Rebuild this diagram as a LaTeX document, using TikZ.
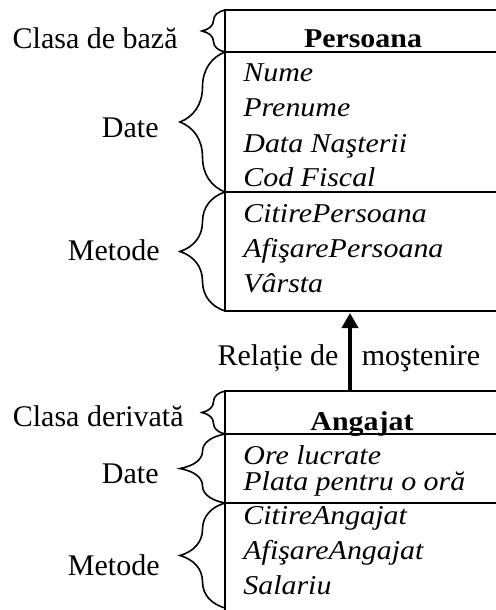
\documentclass[tikz,border=0pt]{standalone}
\usepackage{fontspec}
\setmainfont{Liberation Serif}
\newfontfamily\boxfont[FakeStretch=1.1]{Liberation Serif}
\usetikzlibrary{arrows.meta,decorations.pathreplacing}
\tikzset{
  sect/.style={draw, line width=1pt, inner sep=0pt, outer sep=0pt, anchor=north west, minimum width=138pt},
  item/.style={anchor=base west, inner sep=0pt, font=\boxfont\fontsize{13.6}{15}\selectfont\itshape},
  head/.style={anchor=base, inner sep=0pt, font=\boxfont\fontsize{13.6}{15}\selectfont\bfseries},
  lab/.style={anchor=base east, inner sep=0pt, font=\fontsize{15}{18}\selectfont},
  brc/.style={decorate, line width=0.8pt, decoration={brace, amplitude=#1}},
}
\begin{document}
\begin{tikzpicture}[x=0.5pt,y=-0.5pt]
\useasboundingbox (0,0) rectangle (496,610);
\clip (0,0) rectangle (496,610);
% base class
\node[sect, minimum height=21pt] (phead) at (225,10) {};
\node[sect, minimum height=70pt] (pdata) at (225,52) {};
\node[sect, minimum height=59.5pt] (pmeth) at (225,192) {};
\node[head] (pname) at (363,48) {Persoana};
\node[item] (p1) at (243,82) {Nume};
\node[item] (p2) at (243,117) {Prenume};
\node[item] (p3) at (243,152) {Data Naşterii};
\node[item] (p4) at (243,186) {Cod Fiscal};
\node[item] (p5) at (243,222) {CitirePersoana};
\node[item] (p6) at (243,257) {AfişarePersoana};
\node[item] (p7) at (243,292) {Vârsta};
% derived class
\node[sect, minimum height=21.5pt] (ahead) at (225,391) {};
\node[sect, minimum height=34.5pt] (adata) at (225,434) {};
\node[sect, minimum height=80pt] (ameth) at (225,503) {};
\node[head] (aname) at (362,430) {Angajat};
\node[item] (a1) at (243,464) {Ore lucrate};
\node[item] (a2) at (243,490) {Plata pentru o oră};
\node[item] (a3) at (243,524) {CitireAngajat};
\node[item] (a4) at (243,559) {AfişareAngajat};
\node[item] (a5) at (243,594) {Salariu};
% inheritance arrow
\draw[line width=2pt, -{Triangle[width=8pt,length=7.5pt]}, shorten >=1pt]
  ([xshift=-6.5pt]ahead.north) -- ([xshift=-6.5pt]pmeth.south);
\node[anchor=base, inner sep=0pt, font=\fontsize{15}{18}\selectfont] (rel1) at (278,365) {Relație de};
\node[anchor=base, inner sep=0pt, font=\fontsize{15}{18}\selectfont] (rel2) at (421,365) {moştenire};
% braces
\coordinate (mend) at (225,608);
\draw[brc=11.5pt] (phead.south west) -- (phead.north west);
\draw[brc=22.5pt] (pdata.south west) -- (pdata.north west);
\draw[brc=22.5pt] (pmeth.south west) -- (pmeth.north west);
\draw[brc=11.5pt] (ahead.south west) -- (ahead.north west);
\draw[brc=22.5pt] (adata.south west) -- (adata.north west);
\draw[brc=22.5pt] (mend) -- (ameth.north west);
% labels
\node[lab] (l1) at (178,49) {Clasa de bază};
\node[lab] (l2) at (159,138) {Date};
\node[lab] (l3) at (160,260) {Metode};
\node[lab] (l4) at (184,426) {Clasa derivată};
\node[lab] (l5) at (159,483) {Date};
\node[lab] (l6) at (160,575) {Metode};
\end{tikzpicture}
\end{document}
